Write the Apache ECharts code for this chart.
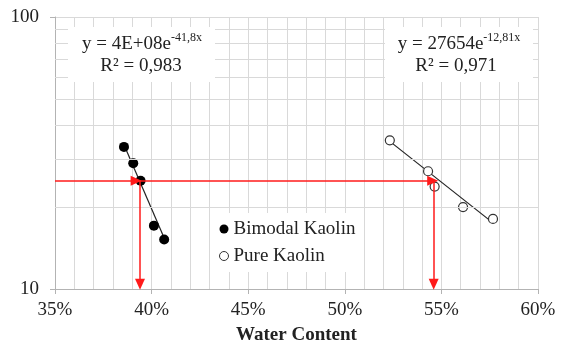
<!DOCTYPE html>
<html>
<head>
<meta charset="utf-8">
<script src="https://cdn.jsdelivr.net/npm/echarts@6/dist/echarts.min.js"></script>
<style>
  html, body { margin: 0; padding: 0; background: #fff; }
  #chart { width: 561px; height: 340px; }
</style>
</head>
<body>
<div id="chart"></div>
<script>
// values (water content in %, blows on log scale)
const bimodalWater = [38.57, 39.05, 39.43, 40.12, 40.65];
const bimodalBlows = [33.3, 29.0, 25.0, 17.1, 15.2];
const pureWater = [52.33, 54.31, 54.65, 56.12, 57.67];
const pureBlows = [35.2, 27.1, 23.8, 20.0, 18.1];

// trendline end points
const bimodalTrendWater = [38.57, 40.65];
const bimodalTrendBlows = [33.9, 15.4];
const pureTrendWater = [52.33, 57.67];
const pureTrendBlows = [34.9, 17.5];

// 25-blow reading
const targetBlows = 25;
const llBimodal = 39.4;
const llPure = 54.6;

const xTicks = [35, 40, 45, 50, 55, 60];
const yMinorGrid = [20, 30, 40, 50, 60, 70, 80, 90];

const serif = '"Liberation Serif", "Times New Roman", serif';
const gridColor = '#d9d9d9';
const axisColor = '#b3b3b3';
const textColor = '#222';

const zip = (xs, ys) => xs.map((x, i) => [x, ys[i]]);

const chart = echarts.init(document.getElementById('chart'));

const redSeg = (x1, y1, x2, y2) => [{ coord: [x1, y1] }, { coord: [x2, y2] }];

const eqRich = {
  m: { fontFamily: serif, fontSize: 19, fill: textColor, lineHeight: 22, verticalAlign: 'bottom' },
  s: { fontFamily: serif, fontSize: 12, fill: textColor, lineHeight: 13, verticalAlign: 'top' }
};

chart.setOption({
  animation: false,
  grid: { left: 55, right: 23, top: 17, bottom: 51, containLabel: false, outerBoundsMode: 'none' },
  xAxis: {
    type: 'value',
    min: xTicks[0],
    max: xTicks[xTicks.length - 1],
    interval: 5,
    name: 'Water Content',
    nameLocation: 'middle',
    nameGap: 37,
    nameTextStyle: { fontFamily: serif, fontWeight: 'bold', fontSize: 19, color: textColor },
    axisLine: { lineStyle: { color: axisColor } },
    axisTick: { show: true, length: 5, lineStyle: { color: axisColor } },
    axisLabel: { formatter: '{value}%', fontFamily: serif, fontSize: 19, color: textColor, margin: 12 },
    splitLine: { show: true, lineStyle: { color: gridColor } },
    minorTick: { show: false, splitNumber: 5 },
    minorSplitLine: { show: true, lineStyle: { color: gridColor } }
  },
  yAxis: {
    type: 'log',
    logBase: 10,
    min: 10,
    max: 100,
    name: 'Blows',
    nameLocation: 'middle',
    nameGap: 35,
    nameTextStyle: { fontFamily: serif, fontWeight: 'bold', fontSize: 18, color: textColor },
    axisLine: { show: true, lineStyle: { color: axisColor } },
    axisTick: { show: true, length: 5, lineStyle: { color: axisColor } },
    axisLabel: { fontFamily: serif, fontSize: 19, color: textColor, margin: 16 },
    splitLine: { show: true, lineStyle: { color: gridColor } }
  },
  legend: {
    orient: 'vertical',
    left: 213,
    top: 213,
    backgroundColor: '#fff',
    padding: [5, 8, 5, 6],
    itemGap: 5,
    itemWidth: 9,
    itemHeight: 9,
    textStyle: { fontFamily: serif, fontSize: 19, color: textColor, lineHeight: 22 },
    data: [
      { name: 'Bimodal Kaolin', icon: 'circle', itemStyle: { color: '#000' } },
      { name: 'Pure Kaolin', icon: 'circle', itemStyle: { color: '#fff', borderColor: '#333', borderWidth: 1 } }
    ]
  },
  series: [
    {
      // horizontal minor grid of the log axis
      name: 'minor grid',
      type: 'line',
      data: [],
      silent: true,
      z: 1,
      markLine: {
        silent: true,
        symbol: ['none', 'none'],
        label: { show: false },
        lineStyle: { color: gridColor, width: 1, type: 'solid' },
        data: yMinorGrid.map(v => ({ yAxis: v }))
      }
    },
    {
      name: 'arrows',
      type: 'line',
      data: [],
      silent: true,
      z: 2,
      markLine: {
        silent: true,
        symbol: ['none', 'triangle'],
        symbolSize: [10, 11],
        label: { show: false },
        lineStyle: { color: '#ff1a1a', width: 1.5, type: 'solid' },
        itemStyle: { color: '#ff1a1a' },
        data: [
          redSeg(xTicks[0], targetBlows, llBimodal - 0.2, targetBlows),
          redSeg(llBimodal - 0.2, targetBlows, llPure - 0.05, targetBlows),
          redSeg(llBimodal, targetBlows, llBimodal, 10.4),
          redSeg(llPure, targetBlows, llPure, 10.4)
        ]
      }
    },
    {
      name: 'Bimodal trend',
      type: 'line',
      data: zip(bimodalTrendWater, bimodalTrendBlows),
      symbol: 'none',
      lineStyle: { color: '#222', width: 1.2 },
      z: 3
    },
    {
      name: 'Pure trend',
      type: 'line',
      data: zip(pureTrendWater, pureTrendBlows),
      symbol: 'none',
      lineStyle: { color: '#222', width: 1.2 },
      z: 3
    },
    {
      name: 'Bimodal Kaolin',
      type: 'scatter',
      data: zip(bimodalWater, bimodalBlows),
      symbol: 'circle',
      symbolSize: 10,
      itemStyle: { color: '#000', opacity: 1 },
      z: 4
    },
    {
      name: 'Pure Kaolin',
      type: 'scatter',
      data: zip(pureWater, pureBlows),
      symbol: 'circle',
      symbolSize: 9,
      itemStyle: { color: '#fff', borderColor: '#333', borderWidth: 1.2, opacity: 1 },
      z: 4
    }
  ],
  graphic: [
    { type: 'rect', shape: { x: 68, y: 27, width: 147, height: 55 }, style: { fill: '#fff' }, z: 50 },
    {
      type: 'text', x: 142, y: 43, z: 51,
      style: { text: '{m|y = 4E+08e}{s|-41,8x}', align: 'center', verticalAlign: 'middle', rich: eqRich }
    },
    {
      type: 'text', x: 141, y: 66, z: 51,
      style: { text: 'R² = 0,983', font: '19px ' + serif, fill: textColor, align: 'center', verticalAlign: 'middle' }
    },
    { type: 'rect', shape: { x: 385, y: 27, width: 148, height: 55 }, style: { fill: '#fff' }, z: 50 },
    {
      type: 'text', x: 459, y: 43, z: 51,
      style: { text: '{m|y = 27654e}{s|-12,81x}', align: 'center', verticalAlign: 'middle', rich: eqRich }
    },
    {
      type: 'text', x: 456, y: 66, z: 51,
      style: { text: 'R² = 0,971', font: '19px ' + serif, fill: textColor, align: 'center', verticalAlign: 'middle' }
    }
  ]
});
</script>
</body>
</html>
